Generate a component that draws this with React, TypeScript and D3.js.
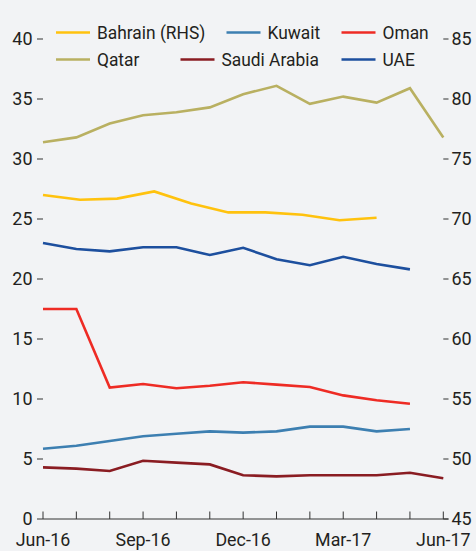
import React from "react";
import * as d3 from "d3";

const months = ["Jun-16","Jul-16","Aug-16","Sep-16","Oct-16","Nov-16","Dec-16","Jan-17","Feb-17","Mar-17","Apr-17","May-17","Jun-17"];
const tickLabels = ["Jun-16","Sep-16","Dec-16","Mar-17","Jun-17"];
const leftTicks = [0,5,10,15,20,25,30,35,40];
const rightTicks = [45,50,55,60,65,70,75,80,85];

const qatar = [31.4, 31.8, 32.95, 33.65, 33.9, 34.3, 35.4, 36.1, 34.6, 35.2, 34.7, 35.9, 31.8];
const oman = [17.5, 17.5, 10.95, 11.25, 10.9, 11.1, 11.4, 11.2, 11.0, 10.3, 9.9, 9.6];
const kuwait = [5.85, 6.1, 6.5, 6.9, 7.1, 7.3, 7.2, 7.3, 7.7, 7.7, 7.3, 7.5];
const saudi = [4.3, 4.2, 4.0, 4.85, 4.7, 4.55, 3.65, 3.55, 3.65, 3.65, 3.65, 3.85, 3.4];
const uae = [23.0, 22.5, 22.3, 22.65, 22.65, 22.0, 22.6, 21.65, 21.15, 21.85, 21.25, 20.8];
const bahrain = [72.0, 71.6, 71.7, 72.3, 71.3, 70.55, 70.55, 70.35, 69.9, 70.1];

const colors = {
  bahrain: "#ffc20e",
  kuwait: "#3d7fb1",
  oman: "#ee2b24",
  qatar: "#b9b061",
  saudi: "#8a1c22",
  uae: "#1d4f9e",
};

const TEXT = "#231f20";
const FONT = "Roboto, 'Liberation Sans', sans-serif";

export default function App() {
  const W = 476, H = 551;
  const x = d3.scalePoint<string>().domain(months).range([43, 443.3]);
  const yL = d3.scaleLinear().domain([0, 40]).range([519, 39]);
  const yR = d3.scaleLinear().domain([45, 85]).range([519, 39]);
  const xB = d3.scaleLinear().domain([0, bahrain.length - 1]).range([x(months[0])!, x(months[10])!]);

  const lineL = (vals: number[]) =>
    d3.line<number>().x((_, i) => x(months[i])!).y((v) => yL(v))(vals) || "";
  const lineB = d3.line<number>().x((_, i) => xB(i)).y((v) => yR(v))(bahrain) || "";

  const series = [
    { key: "qatar", d: lineL(qatar), c: colors.qatar },
    { key: "bahrain", d: lineB, c: colors.bahrain },
    { key: "uae", d: lineL(uae), c: colors.uae },
    { key: "oman", d: lineL(oman), c: colors.oman },
    { key: "kuwait", d: lineL(kuwait), c: colors.kuwait },
    { key: "saudi", d: lineL(saudi), c: colors.saudi },
  ];

  const legend = [
    { label: "Bahrain (RHS)", c: colors.bahrain, lx: 56, row: 0 },
    { label: "Kuwait", c: colors.kuwait, lx: 226.5, row: 0 },
    { label: "Oman", c: colors.oman, lx: 341.5, row: 0 },
    { label: "Qatar", c: colors.qatar, lx: 56, row: 1 },
    { label: "Saudi Arabia", c: colors.saudi, lx: 180.5, row: 1 },
    { label: "UAE", c: colors.uae, lx: 341.5, row: 1 },
  ];

  const axisY = yL(0);

  return (
    <svg width={W} height={H} style={{ position: "absolute", left: 0, top: 0, background: "#f2f3f5" }} fontFamily={FONT}>
      <rect x={0} y={0} width={W} height={H} fill="#f2f3f5" />
      {/* x axis */}
      <line x1={x(months[0])!} x2={448.5} y1={axisY} y2={axisY} stroke="#333" strokeWidth={1} />
      {months.map((m) => (
        <line key={m} x1={x(m)!} x2={x(m)!} y1={axisY} y2={axisY - 7.5} stroke="#333" strokeWidth={1} />
      ))}
      {tickLabels.map((m) => (
        <text key={m} x={x(m)!} y={546.5} textAnchor="middle" fontSize={18} fill={TEXT}
          transform={`translate(${x(m)!},0) scale(0.99,1) translate(${-x(m)!},0)`}>{m}</text>
      ))}
      {/* left ticks */}
      {leftTicks.map((t) => (
        <g key={"l" + t}>
          <line x1={37} x2={43} y1={yL(t)} y2={yL(t)} stroke="#333" strokeWidth={1} />
          <text x={32.5} y={yL(t) + 6.3} textAnchor="end" fontSize={18.5} fill={TEXT}
            transform={`translate(32.5,0) scale(0.97,1) translate(-32.5,0)`}>{t}</text>
        </g>
      ))}
      {/* right ticks */}
      {rightTicks.map((t) => (
        <g key={"r" + t}>
          <line x1={443.3} x2={448.5} y1={yR(t)} y2={yR(t)} stroke="#333" strokeWidth={1} />
          <text x={451.5} y={yR(t) + 6.3} textAnchor="start" fontSize={18.5} fill={TEXT}
            transform={`translate(451.5,0) scale(0.97,1) translate(-451.5,0)`}>{t}</text>
        </g>
      ))}
      {/* series */}
      {series.map((s) => (
        <path key={s.key} d={s.d} fill="none" stroke={s.c} strokeWidth={2.6} strokeLinejoin="miter" />
      ))}
      {/* legend */}
      {legend.map((l) => {
        const ly = l.row === 0 ? 32.5 : 59.5;
        const tx = l.lx + 41;
        return (
          <g key={l.label}>
            <line x1={l.lx} x2={l.lx + 34} y1={ly} y2={ly} stroke={l.c} strokeWidth={2.6} />
            <text x={tx} y={ly + 6.3} fontSize={18} fill={TEXT}
              transform={`translate(${tx},0) scale(0.965,1) translate(${-tx},0)`}>{l.label}</text>
          </g>
        );
      })}
    </svg>
  );
}
